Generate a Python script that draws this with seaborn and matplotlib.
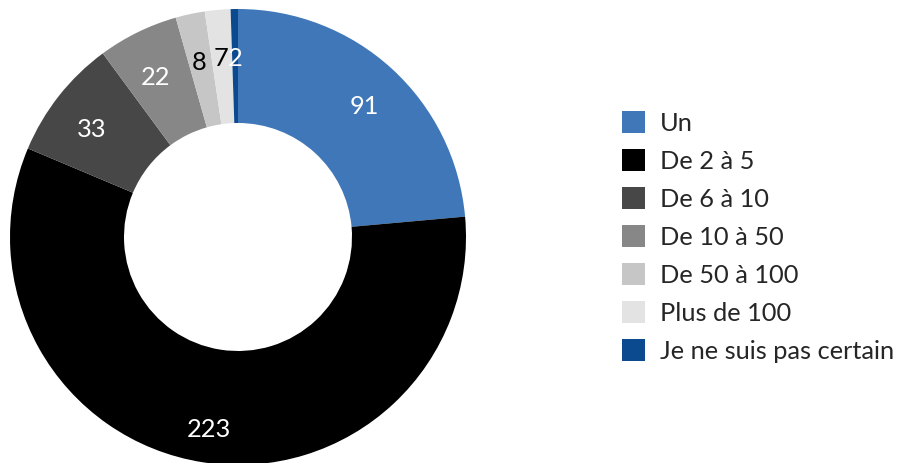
import matplotlib
matplotlib.use("Agg")
import matplotlib.pyplot as plt
from matplotlib.patches import Patch
import seaborn as sns

# Number of items per answer category
categories = ["Un", "De 2 à 5", "De 6 à 10", "De 10 à 50", "De 50 à 100",
              "Plus de 100", "Je ne suis pas certain"]
counts = [91, 223, 33, 22, 8, 7, 2]
colors = ["#3f77b8", "#000000", "#474747", "#878787", "#c6c6c6", "#e3e3e3", "#0b4a8f"]
label_colors = ["white", "white", "white", "white", "black", "black", "white"]

sns.set_theme(style="white")
plt.rcParams["font.family"] = ["Lato", "DejaVu Sans"]

fig = plt.figure(figsize=(8.97, 4.63), dpi=100)
ax = fig.add_axes([10 / 897, -2 / 463, 456 / 897, 456 / 463])

value_iter = iter(counts)
wedges, _, autotexts = ax.pie(
    counts,
    colors=colors,
    startangle=90,
    counterclock=False,
    radius=1.0,
    wedgeprops=dict(width=0.5, linewidth=0),
    autopct=lambda pct: f"{next(value_iter)}",
    pctdistance=0.82,
    textprops=dict(fontsize=18.3),
)
# value labels sit slightly below their radial anchor
for t, c in zip(autotexts, label_colors):
    t.set_color(c)
    x, y = t.get_position()
    t.set_position((x, y - 0.035))

ax.set_xlim(-1, 1)
ax.set_ylim(-1, 1)
ax.set_aspect("auto")
ax.axis("off")

handles = [Patch(facecolor=c, edgecolor="none", label=l) for c, l in zip(colors, categories)]
fig.legend(
    handles=handles,
    loc="center left",
    bbox_to_anchor=(622 / 897, 1 - 237 / 463),
    frameon=False,
    fontsize=18.3,
    handlelength=0.9,
    handleheight=0.95,
    handletextpad=0.6,
    labelspacing=0.56,
    borderaxespad=0,
    borderpad=0,
)

fig.savefig("out.png", dpi=100)
